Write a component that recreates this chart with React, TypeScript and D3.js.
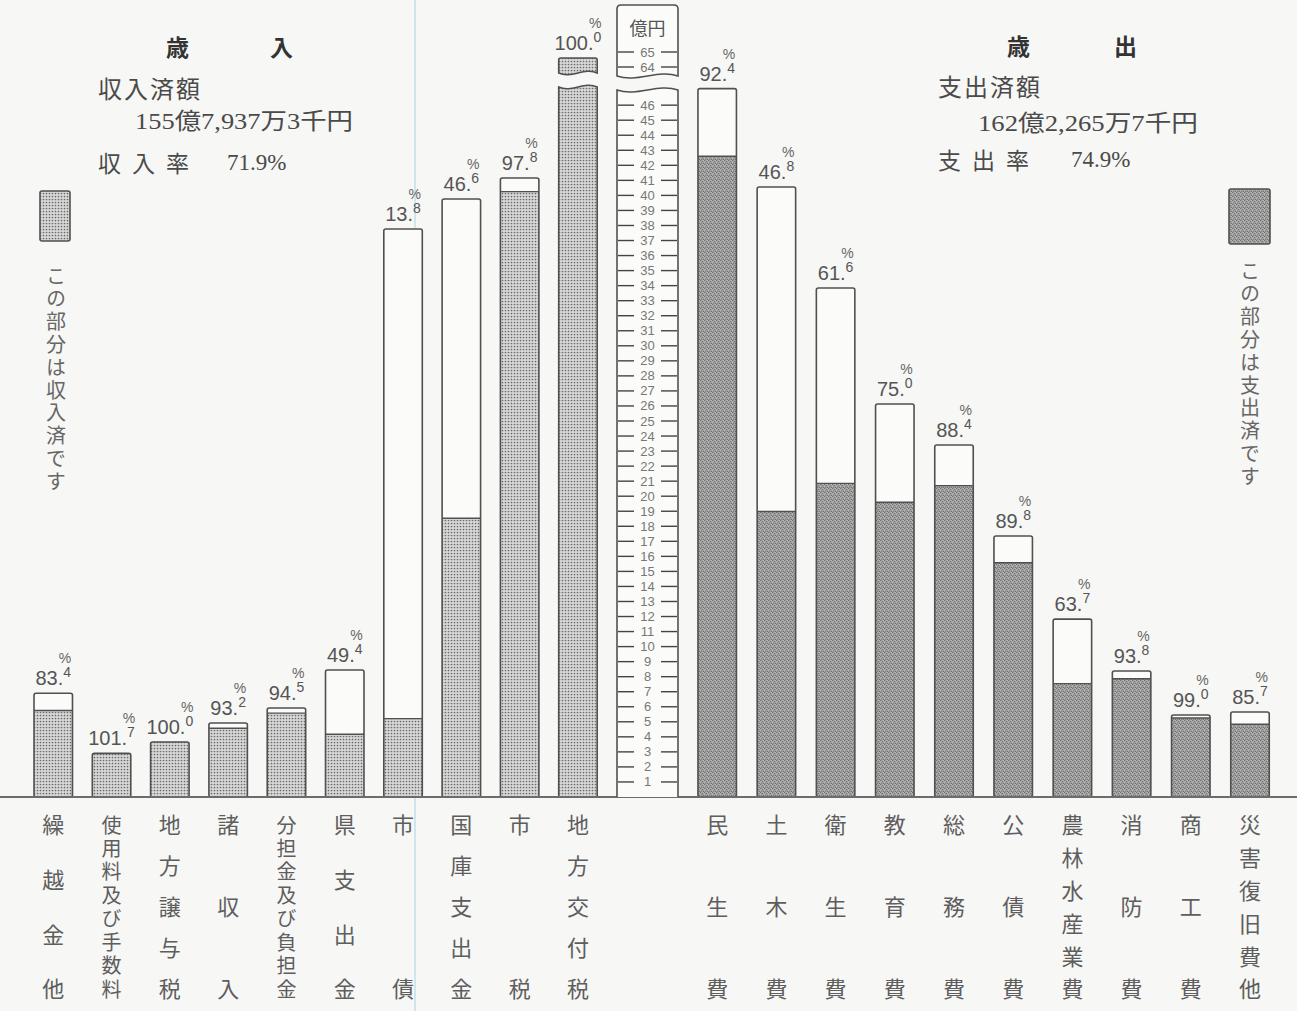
import React, { useEffect, useRef } from 'react';
import * as d3 from 'd3';

// 歳入 (revenue), 億円
const revCats = ['繰越金他', '使用料及び手数料', '地方譲与税', '諸収入', '分担金及び負担金', '県支出金', '市債', '国庫支出金', '市税', '地方交付税'];
const revBudget = [6.9, 2.85, 3.66, 4.92, 5.92, 8.44, 37.77, 39.76, 41.16, 64.6];
const revDone = [5.75, 2.9, 3.66, 4.57, 5.58, 4.17, 5.21, 18.53, 40.25, 64.6];
const revRate = ['83.4', '101.7', '100.0', '93.2', '94.5', '49.4', '13.8', '46.6', '97.8', '100.0'];

// 歳出 (expenditure), 億円
const expCats = ['民生費', '土木費', '衛生費', '教育費', '総務費', '公債費', '農林水産業費', '消防費', '商工費', '災害復旧費他'];
const expBudget = [47.1, 40.56, 33.84, 26.13, 23.4, 17.35, 11.83, 8.38, 5.45, 5.65];
const expDone = [42.6, 18.98, 20.85, 19.6, 20.7, 15.58, 7.54, 7.86, 5.25, 4.84];
const expRate = ['92.4', '46.8', '61.6', '75.0', '88.4', '89.8', '63.7', '93.8', '99.0', '85.7'];

const lowerTicks = d3.range(1, 47);
const upperTicks = [64, 65];

const W = 1297;
const H = 1011;
const BASE = 797;
const CJK = "'Noto Sans CJK JP', sans-serif";
const NUM = "'Liberation Sans', Arial, sans-serif";
const SERIF = "'Liberation Serif', 'Noto Sans CJK JP', serif";
const INK = '#505050';

const App: React.FC = () => {
  const svgRef = useRef<SVGSVGElement>(null);

  useEffect(() => {
    if (!svgRef.current) return;
    const svg = d3.select(svgRef.current);
    svg.selectAll('*').remove();

    const defs = svg.append('defs');
    const p1 = defs.append('pattern').attr('id', 'revDots').attr('width', 3).attr('height', 3).attr('patternUnits', 'userSpaceOnUse');
    p1.append('rect').attr('width', 3).attr('height', 3).attr('fill', '#d8d8d8');
    p1.append('circle').attr('cx', 1.5).attr('cy', 1.5).attr('r', 0.85).attr('fill', '#6a6a6a');
    const p2 = defs.append('pattern').attr('id', 'expDots').attr('width', 4).attr('height', 4).attr('patternUnits', 'userSpaceOnUse');
    p2.append('rect').attr('width', 4).attr('height', 4).attr('fill', '#a6a6a6');
    [[0.5, 0.5], [2.6, 1.4], [1.4, 3.0], [3.5, 3.5]].forEach(([cx, cy]) =>
      p2.append('circle').attr('cx', cx).attr('cy', cy).attr('r', 0.7).attr('fill', '#6e6e6e'));
    [[3.1, 0.6], [0.7, 2.2]].forEach(([cx, cy]) =>
      p2.append('circle').attr('cx', cx).attr('cy', cy).attr('r', 0.6).attr('fill', '#c6c6c6'));

    // paper
    svg.append('rect').attr('width', W).attr('height', H).attr('fill', '#f7f7f5');
    svg.append('line').attr('x1', 415).attr('x2', 415).attr('y1', 0).attr('y2', H)
      .attr('stroke', '#cfe6ee').attr('stroke-width', 2);

    const yLow = d3.scaleLinear().domain([0, 46]).range([BASE, BASE - 46 * 15.04]);
    const yHigh = d3.scaleLinear().domain([64, 65]).range([67, 52]);

    const xRev = d3.scaleBand<string>().domain(revCats).range([24.1, 607.1]).paddingInner(0.34).paddingOuter(0.17);
    const xExp = d3.scaleBand<string>().domain(expCats).range([687.6, 1279.6]).paddingInner(0.35).paddingOuter(0.175);

    const wave = (x0: number, x1: number, y: number, amp: number) => {
      const w = x1 - x0;
      return `C ${x1 - w / 3},${y - amp} ${x0 + w / 3},${y + amp} ${x0},${y}`;
    };
    const waveLR = (x0: number, x1: number, y: number, amp: number) => {
      const w = x1 - x0;
      return `C ${x0 + w / 3},${y + amp} ${x1 - w / 3},${y - amp} ${x1},${y}`;
    };

    const label = (cx: number, topY: number, rate: string) => {
      const [a, b] = rate.split('.');
      const t = svg.append('text').attr('x', cx).attr('y', topY - 8)
        .attr('text-anchor', 'middle').attr('font-family', NUM).attr('fill', '#555');
      t.append('tspan').attr('font-size', 20).text(a + '.');
      t.append('tspan').attr('font-size', 14).attr('dy', -8).text(b);
      const bb = (t.node() as SVGTextElement).getBBox();
      svg.append('text').attr('x', bb.x + bb.width).attr('y', topY - 30)
        .attr('text-anchor', 'end').attr('font-family', NUM).attr('font-size', 14)
        .attr('fill', '#666').text('%');
    };

    const bar = (x: number, w: number, total: number, done: number, pat: string) => {
      const g = svg.append('g');
      if (total < 50) {
        const top = Math.max(total, done);
        const yT = yLow(top);
        const yF = yLow(Math.min(done, top));
        g.append('rect').attr('x', x).attr('y', yT).attr('width', w).attr('height', BASE - yT).attr('fill', '#fbfbfa');
        g.append('rect').attr('x', x).attr('y', yF).attr('width', w).attr('height', BASE - yF).attr('fill', `url(#${pat})`);
        if (yF - yT > 0.5) {
          g.append('line').attr('x1', x).attr('x2', x + w).attr('y1', yF).attr('y2', yF)
            .attr('stroke', INK).attr('stroke-width', 1.4);
        }
        g.append('rect').attr('x', x).attr('y', yT).attr('width', w).attr('height', BASE - yT)
          .attr('rx', 2).attr('fill', 'none').attr('stroke', INK).attr('stroke-width', 1.6);
        return yT;
      }
      // broken bar (value above the scale break)
      const yT = yHigh(total);
      const up = `M ${x},73 L ${x},${yT + 2} Q ${x},${yT} ${x + 2},${yT} L ${x + w - 2},${yT} Q ${x + w},${yT} ${x + w},${yT + 2} L ${x + w},73 ${wave(x, x + w, 73, 6)} Z`;
      g.append('path').attr('d', up).attr('fill', `url(#${pat})`).attr('stroke', INK).attr('stroke-width', 1.6);
      const low = `M ${x},${BASE} L ${x},87 ${waveLR(x, x + w, 87, 6)} L ${x + w},${BASE}`;
      g.append('path').attr('d', low).attr('fill', `url(#${pat})`).attr('stroke', INK).attr('stroke-width', 1.6);
      return yT;
    };

    revCats.forEach((c, i) => {
      const x = xRev(c)!;
      const yT = bar(x, xRev.bandwidth(), revBudget[i], revDone[i], 'revDots');
      label(x + xRev.bandwidth() / 2, yT, revRate[i]);
    });
    expCats.forEach((c, i) => {
      const x = xExp(c)!;
      const yT = bar(x, xExp.bandwidth(), expBudget[i], expDone[i], 'expDots');
      label(x + xExp.bandwidth() / 2, yT, expRate[i]);
    });

    // baseline
    svg.append('line').attr('x1', 0).attr('x2', W).attr('y1', BASE).attr('y2', BASE)
      .attr('stroke', '#6c6c6c').attr('stroke-width', 2);

    // category labels: vertical text, justified over the same span
    const catLabel = (name: string, cx: number) => {
      const chars = Array.from(name);
      const n = chars.length;
      const size = n >= 8 ? 20 : 22;
      const step = n > 1 ? 164 / (n - 1) : 0;
      const t = svg.append('text').attr('x', cx).attr('y', 825 - size / 2)
        .attr('writing-mode', 'vertical-rl').style('writing-mode', 'vertical-rl')
        .attr('font-family', CJK).attr('font-size', size).attr('fill', '#5e5e5e');
      t.append('tspan').attr('letter-spacing', Math.max(0, step - size)).text(chars.slice(0, -1).join(''));
      t.append('tspan').attr('letter-spacing', 0).text(chars[n - 1]);
    };
    revCats.forEach(c => catLabel(c, xRev(c)! + xRev.bandwidth() / 2));
    expCats.forEach(c => catLabel(c, xExp(c)! + xExp.bandwidth() / 2));

    // ruler
    const rx0 = 617, rx1 = 678;
    const ruler = svg.append('g');
    ruler.append('path')
      .attr('d', `M ${rx0},76 L ${rx0},9 Q ${rx0},5 ${rx0 + 4},5 L ${rx1 - 4},5 Q ${rx1},5 ${rx1},9 L ${rx1},76 ${wave(rx0, rx1, 76, 7)} Z`)
      .attr('fill', '#fbfbfa').attr('stroke', INK).attr('stroke-width', 1.6);
    ruler.append('path')
      .attr('d', `M ${rx0},${BASE} L ${rx0},90 ${waveLR(rx0, rx1, 90, 7)} L ${rx1},${BASE}`)
      .attr('fill', '#fbfbfa').attr('stroke', INK).attr('stroke-width', 1.6);
    ruler.append('text').attr('x', 647.5).attr('y', 27).attr('text-anchor', 'middle')
      .attr('dominant-baseline', 'central').attr('font-family', CJK).attr('font-size', 18)
      .attr('fill', '#555').text('億円');
    const tick = (y: number, v: number) => {
      ruler.append('line').attr('x1', 618).attr('x2', 634).attr('y1', y).attr('y2', y).attr('stroke', '#444').attr('stroke-width', 1.4);
      ruler.append('line').attr('x1', 661).attr('x2', 677).attr('y1', y).attr('y2', y).attr('stroke', '#444').attr('stroke-width', 1.4);
      ruler.append('text').attr('x', 647.5).attr('y', y).attr('text-anchor', 'middle')
        .attr('dominant-baseline', 'central').attr('font-family', NUM).attr('font-size', 13)
        .attr('fill', '#777').text(String(v));
    };
    lowerTicks.forEach(v => tick(yLow(v), v));
    upperTicks.forEach(v => tick(yHigh(v), v));

    // titles and totals
    const txt = (x: number, y: number, s: string, size: number, opts: { bold?: boolean; font?: string; ls?: number; len?: number; fill?: string } = {}) => {
      const t = svg.append('text').attr('x', x).attr('y', y).attr('dominant-baseline', 'central')
        .attr('font-family', opts.font || CJK).attr('font-size', size)
        .attr('font-weight', opts.bold ? 'bold' : 'normal').attr('fill', opts.fill || '#4a4a4a').text(s);
      if (opts.ls) t.attr('letter-spacing', opts.ls);
      if (opts.len) t.attr('textLength', opts.len).attr('lengthAdjust', 'spacingAndGlyphs');
    };
    txt(166, 46, '歳', 23, { bold: true, fill: '#333' });
    txt(270, 46, '入', 23, { bold: true, fill: '#333' });
    txt(98, 87, '収入済額', 24, { ls: 2 });
    txt(135, 121, '155億7,937万3千円', 23, { font: SERIF, len: 218 });
    txt(98, 162, '収入率', 23, { ls: 11 });
    txt(227, 162, '71.9%', 23, { font: SERIF });

    txt(1007, 45, '歳', 23, { bold: true, fill: '#333' });
    txt(1114, 45, '出', 23, { bold: true, fill: '#333' });
    txt(938, 85, '支出済額', 24, { ls: 2 });
    txt(978, 123, '162億2,265万7千円', 23, { font: SERIF, len: 220 });
    txt(938, 159, '支出率', 23, { ls: 11 });
    txt(1071, 159, '74.9%', 23, { font: SERIF });

    // legends
    svg.append('rect').attr('x', 40).attr('y', 191).attr('width', 30).attr('height', 50).attr('rx', 2)
      .attr('fill', 'url(#revDots)').attr('stroke', INK).attr('stroke-width', 1.6);
    svg.append('rect').attr('x', 1229).attr('y', 189).attr('width', 41).attr('height', 55).attr('rx', 2)
      .attr('fill', 'url(#expDots)').attr('stroke', INK).attr('stroke-width', 1.6);
    const vText = (s: string, cx: number, y0: number) => {
      svg.append('text').attr('x', cx).attr('y', y0)
        .attr('writing-mode', 'vertical-rl').style('writing-mode', 'vertical-rl')
        .attr('font-family', CJK).attr('font-size', 20).attr('letter-spacing', 2.8)
        .attr('fill', '#666').text(s);
    };
    vText('この部分は収入済です', 56, 266);
    vText('この部分は支出済です', 1250, 261);
  }, []);

  return (
    <svg ref={svgRef} width={W} height={H} viewBox={`0 0 ${W} ${H}`}
      style={{ position: 'absolute', left: 0, top: 0, display: 'block' }} />
  );
};

export default App;
